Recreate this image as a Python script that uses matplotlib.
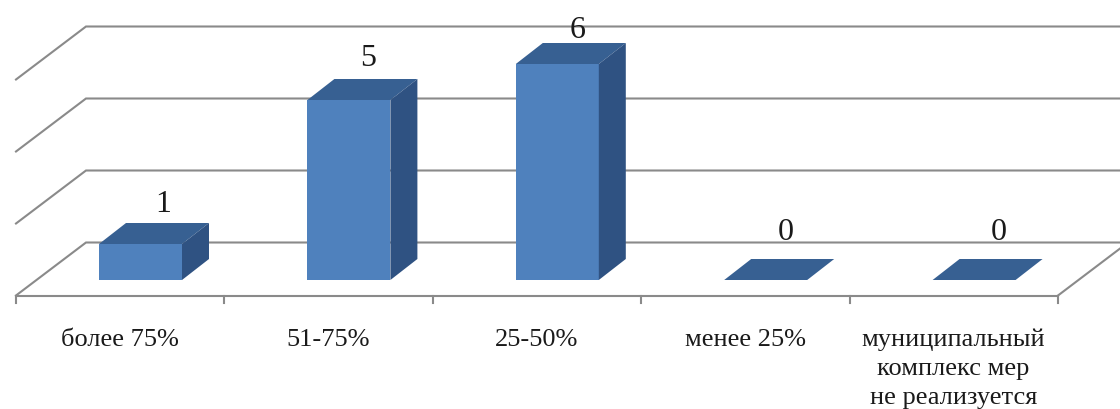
import matplotlib
matplotlib.use("Agg")
import matplotlib.pyplot as plt

plt.rcParams['font.family'] = ['Liberation Serif', 'DejaVu Serif']

# Data
categories = ["более 75%", "51-75%", "25-50%", "менее 25%",
              "муниципальный\nкомплекс мер\nне реализуется"]
values = [1, 5, 6, 0, 0]
grid_levels = [0, 2, 4, 6]

# Scale: pixels per category and per unit of value
PX_X = 208.4
PX_Y = 36.0
front_color = "#4f81bd"
top_color = "#376092"
side_color = "#2f5282"
grid_color = "#8a8a8a"

fig = plt.figure(figsize=(11.2, 4.1), dpi=100)
ax = fig.add_axes([0, 0, 1, 1])
ax.set_xlim(-140.5 / PX_X, (1120 - 140.5) / PX_X)
ax.set_ylim(-129 / PX_Y, 281 / PX_Y)
ax.axis("off")

# sizes in axis units
bar_w = 83 / PX_X
bar_dx = 27 / PX_X
bar_dy = 21 / PX_Y
floor_y = -15.5 / PX_Y
wall_dx = 70 / PX_X
wall_dy = 53 / PX_Y
left_x = -124.5 / PX_X
tick_len = 7 / PX_Y

# Back wall gridlines and the slanted parts on the left wall
for v in grid_levels:
    y_front = floor_y + v
    y_back = y_front + wall_dy
    ax.plot([left_x, left_x + wall_dx, ax.get_xlim()[1]], [y_front, y_back, y_back],
            color=grid_color, lw=1.5, zorder=1, solid_joinstyle="miter")

# Floor front edge, right edge and ticks
right_x = left_x + len(categories)
ax.plot([left_x, right_x], [floor_y, floor_y], color=grid_color, lw=1.5, zorder=1)
ax.plot([right_x, right_x + wall_dx], [floor_y, floor_y + wall_dy], color=grid_color, lw=1.5, zorder=1)
for i in range(len(categories) + 1):
    ax.plot([left_x + i, left_x + i], [floor_y, floor_y - tick_len], color=grid_color, lw=1.5, zorder=1)

# Bars
x_pos = list(range(len(values)))
ax.bar(x_pos, values, width=bar_w, color=front_color, lw=0, zorder=3)
for x, v in zip(x_pos, values):
    l = x - bar_w / 2
    r = x + bar_w / 2
    ax.fill([l, r, r + bar_dx, l + bar_dx], [v, v, v + bar_dy, v + bar_dy], color=top_color, lw=0, zorder=3)
    if v > 0:
        ax.fill([r, r + bar_dx, r + bar_dx, r], [0, bar_dy, v + bar_dy, v], color=side_color, lw=0, zorder=3)

# Value labels (lifted a bit differently, as in the original)
label_lift = [41, 42, 35, 48, 48]
label_shift = [23, 19, 20, 20, 25]
for x, v, lift, shift in zip(x_pos, values, label_lift, label_shift):
    ax.text(x + shift / PX_X, v + lift / PX_Y, str(v), fontsize=23, color="#1a1a1a",
            ha="center", va="center", zorder=4)

# Category labels
for x, name in zip(x_pos, categories):
    ax.text(x - 20.5 / PX_X, -48 / PX_Y, name, fontsize=19, color="#1a1a1a",
            ha="center", va="top", linespacing=1.4, zorder=4)

fig.savefig("out.png", dpi=100)
